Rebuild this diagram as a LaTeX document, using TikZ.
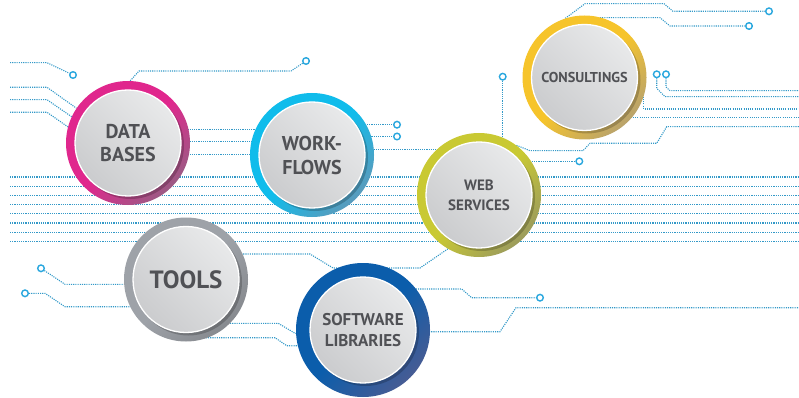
\documentclass[tikz,border=0pt]{standalone}
\usepackage{fontspec}
\setmainfont{PT Sans}
\usetikzlibrary{backgrounds}

\definecolor{wirecol}{HTML}{3399C8}
\definecolor{padcol}{HTML}{29A7DE}
\definecolor{dbring}{HTML}{E0278D}
\definecolor{dbdark}{HTML}{9C5A84}
\definecolor{wfring}{HTML}{10BCEB}
\definecolor{wfdark}{HTML}{5A9BBC}
\definecolor{coring}{HTML}{F6C42B}
\definecolor{codark}{HTML}{B9A36C}
\definecolor{webring}{HTML}{C9C933}
\definecolor{webdark}{HTML}{9C9C5C}
\definecolor{toring}{HTML}{9EA2A8}
\definecolor{todark}{HTML}{878A8F}
\definecolor{swring}{HTML}{0B5DAB}
\definecolor{swdark}{HTML}{465C94}
\definecolor{disklight}{HTML}{E8E9EA}
\definecolor{diskdark}{HTML}{CBCCCE}
\definecolor{labelgray}{HTML}{505155}

\begin{document}
\begin{tikzpicture}[x=1pt,y=-1pt,
    wire/.style={draw=wirecol, line width=1.1pt, dash pattern=on 1.1pt off 1.1pt},
    pad/.style={circle, draw=padcol, line width=1.4pt, fill=white, minimum size=6.6pt, inner sep=0pt},
    ring/.style 2 args={circle, inner sep=0pt, minimum size=124pt, top color=#1, bottom color=#2, middle color=#1, shading angle=45},
    drop/.style={circle, inner sep=0pt, minimum size=107pt, fill=black, opacity=0.2, xshift=2.5pt, yshift=-2.5pt},
    disk/.style={circle, inner sep=0pt, minimum size=106pt, draw=white, line width=1.3pt, top color=disklight, bottom color=diskdark, shading angle=-45, text=labelgray, align=center}
  ]
\useasboundingbox (0,0) rectangle (799,398);

% bubbles
\node[ring={dbring}{dbdark}] (db) at (128,143) {};
\node[drop] at (db) {};
\node[disk, font=\bfseries\fontsize{20}{23}\selectfont] (dbt) at (db) {DATA\\BASES};

\node[ring={wfring}{wfdark}] (wf) at (312,155) {};
\node[drop] at (wf) {};
\node[disk, font=\bfseries\fontsize{20}{24}\selectfont] (wft) at (wf) {WORK-\\FLOWS};

\node[ring={coring}{codark}] (co) at (584.5,77.5) {};
\node[drop] at (co) {};
\node[disk, font=\bfseries\fontsize{14.3}{16}\selectfont] (cot) at (co) {CONSULTINGS};

\node[ring={webring}{webdark}] (web) at (479,195) {};
\node[drop] at (web) {};
\node[disk, font=\bfseries\fontsize{15}{20}\selectfont] (webt) at (web) {WEB\\SERVICES};

\node[ring={toring}{todark}] (tools) at (186,279.5) {};
\node[drop] at (tools) {};
\node[disk, font=\bfseries\fontsize{25}{27}\selectfont] (toolst) at (tools) {TOOLS};

\node[ring={swring}{swdark}, minimum size=134pt] (sw) at (363,330) {};
\node[drop] at (sw) {};
\node[disk, font=\bfseries\fontsize{17}{21}\selectfont] (swt) at (sw) {SOFTWARE\\LIBRARIES};

% pads
\node[pad] (p1) at (73,75) {};
\node[pad] (p2) at (306,61) {};
\node[pad] (p3) at (397,124.7) {};
\node[pad] (p4) at (397,136.5) {};
\node[pad] (p5) at (769,11.3) {};
\node[pad] (p6) at (749,26) {};
\node[pad] (p7) at (656.7,74.3) {};
\node[pad] (p8) at (666,74.3) {};
\node[pad] (p9) at (502.7,76.7) {};
\node[pad] (p10) at (579.3,161.3) {};
\node[pad] (p11) at (540,297.7) {};
\node[pad] (p12) at (41,268.3) {};
\node[pad] (p13) at (25,293.3) {};

\begin{scope}[on background layer]
  % long bus
  \foreach \i in {0,...,7}
    {
    \coordinate (w\i) at (10,177+9.2*\i);
    \coordinate (e\i) at (799,177+9.2*\i);
    \draw[wire] (w\i) -- (e\i);
    }
  % data bases
  \coordinate (l1) at (10,62.7);
  \coordinate (l2) at (10,87.3);
  \coordinate (l3) at (10,99.7);
  \coordinate (l4) at (10,112.3);
  \draw[wire] (l1) -- (47,62.7) -- (p1);
  \draw[wire] (l2) -- (47,87.3) -- (db.146);
  \draw[wire] (l3) -- (47,99.7) -- (db.155);
  \draw[wire] (l4) -- (47,112.3) -- (db.165);
  \draw[wire] (db.88) -- (139,71) -- (291,71) -- (p2);
  \foreach \y in {129.3,141.5,154.3}
    \draw[wire] (db |- 0,\y) -- (wf |- 0,\y);
  % work-flows
  \draw[wire] (wf |- p3) -- (p3);
  \draw[wire] (wf |- p4) -- (p4);
  \draw[wire] (wf |- 0,149.7) -- (web |- 0,149.7);
  % consultings
  \draw[wire] (co.108) -- (585,3.7) -- (664,3.7) -- (673,11.3) -- (p5);
  \draw[wire] (co |- 0,17.7) -- (660,17.7) -- (670,26) -- (p6);
  \coordinate (r1) at (799,90.7);
  \coordinate (r2) at (799,96.7);
  \coordinate (r3) at (799,109);
  \coordinate (r4) at (799,117.7);
  \coordinate (r5) at (799,126.7);
  \draw[wire] (p7) -- (656.7,88.3) -- (665,96.7) -- (r2);
  \draw[wire] (p8) -- (666,87) -- (670,90.7) -- (r1);
  \draw[wire] (co.-18) -- (co.-18 |- r3) -- (r3);
  \draw[wire] (co |- r4) -- (r4);
  \draw[wire] (web.53) -- (530,150.7) -- (583,150.7) -- (590,143.3) -- (656.7,143.3) -- (666.7,126.7) -- (r5);
  % web services
  \draw[wire] (p9) -- (p9 |- web);
  \draw[wire] (web |- p10) -- (p10);
  \draw[wire] (tools |- 0,254) -- (310,254) -- (333,268) -- (420,268) -- (web.240);
  % software libraries
  \coordinate (r6) at (799,307.7);
  \draw[wire] (sw |- 0,289) -- (461.7,289) -- (471.7,297.7) -- (p11);
  \draw[wire] (sw |- 0,331.7) -- (500,331.7) -- (516,307.7) -- (r6);
  % tools
  \draw[wire] (p12) -- (65,284.3) -- (tools |- 0,284.3);
  \draw[wire] (p13) -- (45,293.3) -- (65,306.7) -- (tools |- 0,306.7);
  \draw[wire] (tools |- 0,323.3) -- (278.3,323.3) -- (295,333.3) -- (sw |- 0,333.3);
  \draw[wire] (tools |- 0,337.7) -- (275,337.7) -- (286.7,345.7) -- (sw |- 0,345.7);
\end{scope}

\end{tikzpicture}
\end{document}
